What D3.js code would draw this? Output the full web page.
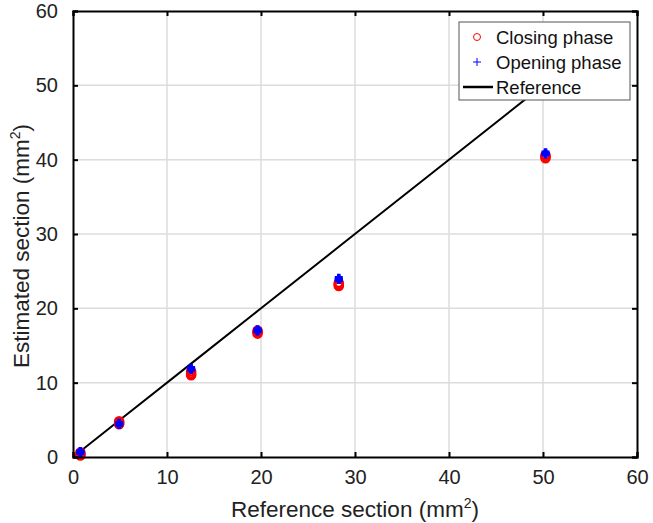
<!DOCTYPE html>
<html>
<head>
<meta charset="utf-8">
<script src="https://cdn.jsdelivr.net/npm/d3@7"></script>
<style>
  html, body { margin: 0; padding: 0; background: #fff; }
  svg { display: block; font-family: "Liberation Sans", Arial, Helvetica, sans-serif; }
</style>
</head>
<body>
<svg id="chart" width="653" height="523"></svg>
<script>
// Reference cross-sections (mm²) of the calibrated tubes
const referenceSection = [0.785, 4.909, 12.566, 19.635, 28.274, 50.265];
// Repeated estimates per tube, closing phase (mm²)
const closingPhase = [
  [0.2, 0.4, 0.6],
  [4.4, 4.6, 4.8],
  [11.0, 11.2, 11.5],
  [16.6, 16.8, 17.0],
  [23.0, 23.2, 23.4],
  [40.2, 40.4, 40.6]
];
// Repeated estimates per tube, opening phase (mm²)
const openingPhase = [
  [0.5, 0.7, 0.8],
  [4.3, 4.5, 4.6],
  [11.7, 11.8, 12.0],
  [16.9, 17.0, 17.2],
  [23.8, 23.9, 24.1],
  [40.7, 40.8, 41.0]
];
const xTicks = [0, 10, 20, 30, 40, 50, 60];
const yTicks = [0, 10, 20, 30, 40, 50, 60];
const legendLabels = ["Closing phase", "Opening phase", "Reference"];

const svg = d3.select("#chart");
const m = { left: 73, right: 16, top: 11, bottom: 66 };
const W = 653, H = 523;
const x = d3.scaleLinear().domain([0, 60]).range([m.left, W - m.right]);
const y = d3.scaleLinear().domain([0, 60]).range([H - m.bottom, m.top]);

// grid
const grid = svg.append("g").attr("stroke", "#dcdcdc").attr("stroke-width", 1.5);
grid.selectAll("line.vx").data(xTicks.slice(1, -1)).join("line")
  .attr("x1", d => x(d)).attr("x2", d => x(d))
  .attr("y1", y(0)).attr("y2", y(60));
grid.selectAll("line.hy").data(yTicks.slice(1, -1)).join("line")
  .attr("y1", d => y(d)).attr("y2", d => y(d))
  .attr("x1", x(0)).attr("x2", x(60));

// reference line y = x
svg.append("path")
  .datum([0].concat(referenceSection))
  .attr("fill", "none").attr("stroke", "#000").attr("stroke-width", 2)
  .attr("d", d3.line().x(d => x(d)).y(d => y(d)));

// closing phase: red circles
const closingPts = referenceSection.flatMap((r, i) => closingPhase[i].map(v => [r, v]));
svg.append("g").selectAll("circle").data(closingPts).join("circle")
  .attr("cx", d => x(d[0])).attr("cy", d => y(d[1])).attr("r", 4)
  .attr("fill", "none").attr("stroke", "#ff0000").attr("stroke-width", 2.6);

// opening phase: blue plus markers
const openingPts = referenceSection.flatMap((r, i) => openingPhase[i].map(v => [r, v]));
const plus = svg.append("g").attr("stroke", "#0000ff").attr("stroke-width", 3.6);
plus.selectAll("path").data(openingPts).join("path")
  .attr("d", d => {
    const cx = x(d[0]), cy = y(d[1]), s = 4;
    return `M${cx - s},${cy}H${cx + s}M${cx},${cy - s}V${cy + s}`;
  });

// axes frame with inward ticks on all four sides
const axB = d3.axisBottom(x).tickValues(xTicks).tickSize(-5).tickPadding(13).tickFormat(d3.format("d"));
const axL = d3.axisLeft(y).tickValues(yTicks).tickSize(-5).tickPadding(15).tickFormat(d3.format("d"));
const axT = d3.axisTop(x).tickValues(xTicks).tickSize(-5).tickFormat("");
const axR = d3.axisRight(y).tickValues(yTicks).tickSize(-5).tickFormat("");
function style(g) {
  g.select(".domain").attr("stroke", "#000").attr("stroke-width", 2);
  g.selectAll(".tick line").attr("stroke", "#000").attr("stroke-width", 2);
  g.selectAll(".tick text").attr("fill", "#222").attr("font-size", 20)
    .attr("font-family", "Liberation Sans, Arial, sans-serif");
}
svg.append("g").attr("transform", `translate(0,${y(0)})`).call(axB).call(style);
svg.append("g").attr("transform", `translate(${x(0)},0)`).call(axL).call(style);
svg.append("g").attr("transform", `translate(0,${y(60)})`).call(axT).call(style);
svg.append("g").attr("transform", `translate(${x(60)},0)`).call(axR).call(style);

// axis titles
const xt = svg.append("text").attr("x", 355).attr("y", 517)
  .attr("text-anchor", "middle").attr("font-size", 22.5).attr("fill", "#222");
xt.append("tspan").text("Reference section (mm");
xt.append("tspan").attr("font-size", 14).attr("dy", -9).text("2");
xt.append("tspan").attr("dy", 9).text(")");

const yt = svg.append("text")
  .attr("transform", `translate(29,${(y(0) + y(60)) / 2 + 12}) rotate(-90)`)
  .attr("text-anchor", "middle").attr("font-size", 22.5).attr("fill", "#222");
yt.append("tspan").text("Estimated section (mm");
yt.append("tspan").attr("font-size", 14).attr("dy", -9).text("2");
yt.append("tspan").attr("dy", 9).text(")");

// legend
const lg = svg.append("g").attr("transform", "translate(459,22)");
lg.append("rect").attr("width", 171).attr("height", 78)
  .attr("fill", "#fff").attr("stroke", "#555").attr("stroke-width", 1);
const rows = lg.selectAll("g.row").data(legendLabels).join("g")
  .attr("transform", (d, i) => `translate(0,${15 + i * 25})`);
rows.append("text").attr("x", 37).attr("y", 6.5).attr("font-size", 18.5).attr("fill", "#111").text(d => d);
rows.filter((d, i) => i === 0).append("circle").attr("cx", 18).attr("cy", 0).attr("r", 3.5)
  .attr("fill", "none").attr("stroke", "#ff0000").attr("stroke-width", 1);
rows.filter((d, i) => i === 1).append("path").attr("d", "M14,0H22M18,-4V4")
  .attr("stroke", "#0000ff").attr("stroke-width", 1);
rows.filter((d, i) => i === 2).append("line").attr("x1", 4).attr("x2", 34)
  .attr("stroke", "#000").attr("stroke-width", 2.5);
</script>
</body>
</html>
